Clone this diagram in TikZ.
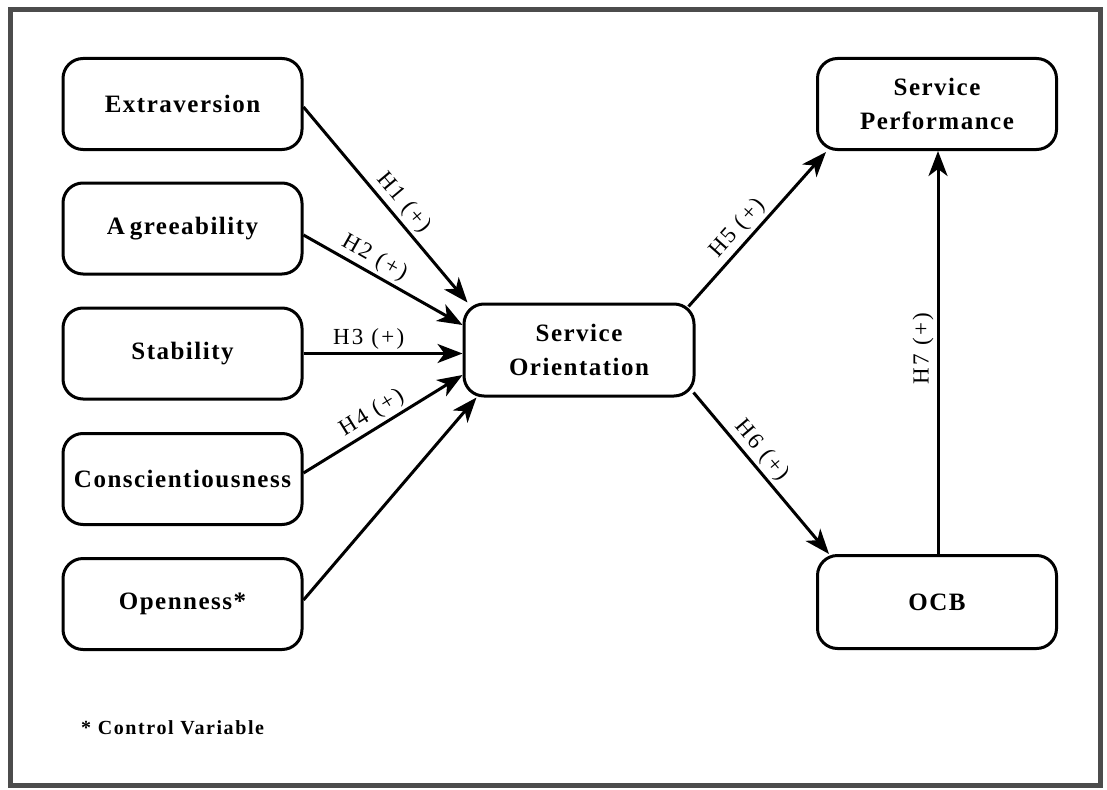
\documentclass[tikz,border=0pt]{standalone}
\usepackage{fontspec}
\setmainfont{Liberation Serif}
\newfontfamily\boxfont{Liberation Serif Bold}[LetterSpace=6]
\newfontfamily\lblfont{Liberation Serif}[LetterSpace=10]
\newfontfamily\notefont{Liberation Serif Bold}[LetterSpace=8]
\usetikzlibrary{arrows.meta}
\begin{document}
\begin{tikzpicture}[x=1pt,y=-1pt,
  box/.style={draw, line width=3pt, rounded corners=20pt, minimum width=239pt, minimum height=91pt, inner sep=0pt, align=center, font=\boxfont\fontsize{25}{34}\selectfont},
  arr/.style={line width=3pt, -{Stealth[length=25pt,width=19pt,inset=7pt]}},
  lbl/.style={sloped, above, inner sep=3pt, font=\lblfont\fontsize{23}{24}\selectfont}]
\useasboundingbox (0,0) rectangle (1107,789);
\draw[line width=5pt, black!70] (10,10) rectangle (1100,785);

\node[box] (ext) at (182.5,104) {Extraversion};
\node[box] (agr) at (182.5,228.5) {A\kern5pt greeability};
\node[box] (stab) at (182.5,353.5) {Stability};
\node[box] (consc) at (182.5,479) {Conscientiousness};
\node[box] (open) at (182.5,604) {Openness*};
\node[box, minimum width=230pt, minimum height=92pt] (so) at (579,350) {Service\\Orientation};
\node[box] (sp) at (937,104) {Service\\Performance};
\node[box, minimum height=93pt] (ocb) at (937,602) {OCB};

\node[anchor=west, inner sep=0pt, font=\notefont\fontsize{20}{22}\selectfont] (note) at (81,728) {* Control Variable};

\draw[arr] ([yshift=-3pt]ext.east) -- node[lbl, pos=.54] (l1) {H1 (+)} ([xshift=5pt]so.north west);
\draw[arr] ([yshift=-6.5pt]agr.east) -- node[lbl, pos=.4] (l2) {H2 (+)} ([yshift=25pt]so.west);
\draw[arr] (stab.east) -- node[lbl, pos=.41] (l3) {H3 (+)} (so.west |- stab.east);
\draw[arr] ([yshift=6pt]consc.east) -- node[lbl, pos=.48] (l4) {H4 (+)} ([yshift=-25pt]so.west);
\draw[arr] ([yshift=4pt]open.east) -- ([xshift=14pt]so.south west);
\draw[arr] ([xshift=-7pt,yshift=-4pt]so.north east) -- node[lbl, pos=.44] (l5) {H5 (+)} ([xshift=10pt,yshift=-1pt]sp.south west);
\draw[arr] ([xshift=-2pt,yshift=5pt]so.south east) -- node[lbl, pos=.42] (l6) {H6 (+)} ([xshift=13pt]ocb.north west);
\draw[arr] ([xshift=1pt]ocb.north) -- node[lbl, pos=.51] (l7) {H7 (+)} ([xshift=1pt]sp.south);
\end{tikzpicture}
\end{document}
